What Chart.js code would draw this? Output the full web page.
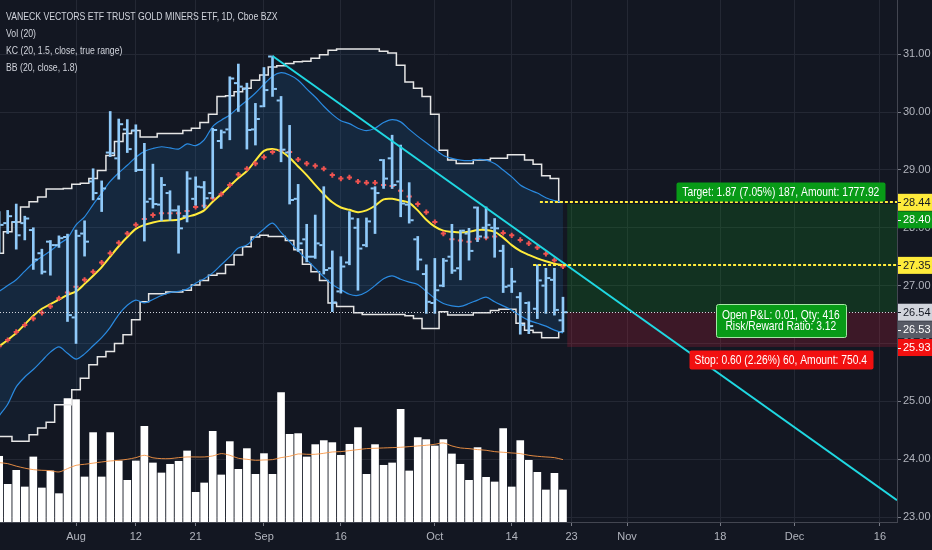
<!DOCTYPE html>
<html>
<head>
<meta charset="utf-8">
<script src="https://cdn.jsdelivr.net/npm/chart.js@4.4.1/dist/chart.umd.min.js"></script>
<style>
  html, body { margin: 0; padding: 0; background: #131722; }
  #wrap { width: 932px; height: 550px; }
</style>
</head>
<body>
<div id="wrap"><canvas id="myChart" width="932" height="550"></canvas></div>
<script>
// trading days, first one sits 9 bars before Aug 1
var dates = ['2019-07-19','2019-07-22','2019-07-23','2019-07-24','2019-07-25','2019-07-26','2019-07-29','2019-07-30','2019-07-31',
  '2019-08-01','2019-08-02','2019-08-05','2019-08-06','2019-08-07','2019-08-08','2019-08-09','2019-08-12','2019-08-13','2019-08-14',
  '2019-08-15','2019-08-16','2019-08-19','2019-08-20','2019-08-21','2019-08-22','2019-08-23','2019-08-26','2019-08-27','2019-08-28',
  '2019-08-29','2019-08-30','2019-09-03','2019-09-04','2019-09-05','2019-09-06','2019-09-09','2019-09-10','2019-09-11','2019-09-12',
  '2019-09-13','2019-09-16','2019-09-17','2019-09-18','2019-09-19','2019-09-20','2019-09-23','2019-09-24','2019-09-25','2019-09-26',
  '2019-09-27','2019-09-30','2019-10-01','2019-10-02','2019-10-03','2019-10-04','2019-10-07','2019-10-08','2019-10-09','2019-10-10',
  '2019-10-11','2019-10-14','2019-10-15','2019-10-16','2019-10-17','2019-10-18','2019-10-21','2019-10-22'];
var firstBar = -9;

var open = [27.90,28.08,28.10,28.08,27.96,27.56,27.76,27.70,27.84,
  26.45,27.90,28.80,28.50,29.30,29.20,29.70,29.68,29.00,28.50,
  28.40,28.60,28.30,28.20,28.50,28.70,28.60,29.50,29.70,30.50,
  30.40,29.70,30.10,30.96,30.20,29.30,28.50,27.80,27.50,27.70,
  27.30,26.90,27.40,28.00,27.70,28.68,29.17,29.20,28.80,28.40,
  27.80,27.20,26.70,27.00,27.50,27.30,27.90,28.35,28.00,28.00,
  27.60,27.00,26.80,26.70,26.60,27.00,27.10,26.40];
var high = [28.28,28.30,28.41,28.20,28.00,27.63,27.78,27.86,27.89,
  27.96,28.12,29.02,28.81,30.01,29.88,29.87,29.78,29.46,29.10,
  28.87,28.64,28.38,28.97,28.88,28.80,29.72,29.69,30.61,30.83,
  30.50,30.15,30.77,30.97,30.27,29.77,28.75,28.06,28.22,28.71,
  27.60,27.50,28.28,28.16,28.17,28.71,29.18,29.60,29.43,28.78,
  27.85,27.36,27.47,27.47,28.06,27.96,27.99,28.36,28.36,28.16,
  27.70,27.30,26.88,26.72,27.36,27.30,27.30,26.80];
var low = [27.56,27.90,27.63,27.79,27.28,27.20,27.18,27.66,26.38,
  26.00,27.51,28.48,28.28,29.23,28.84,29.30,28.97,27.77,28.34,
  28.12,28.13,27.56,28.10,28.39,28.34,28.51,29.37,29.52,30.01,
  29.36,29.43,30.09,30.27,29.14,28.41,27.59,27.41,27.47,27.20,
  26.55,26.87,27.36,26.92,27.67,27.90,28.68,28.68,28.19,28.08,
  27.27,26.52,26.52,26.98,27.21,27.10,27.44,27.76,27.82,27.49,
  26.88,26.88,26.16,26.17,26.43,26.52,26.49,26.20];
var close = [28.05,28.20,27.87,28.16,27.45,27.24,27.70,27.82,26.49,
  27.86,27.76,28.60,28.68,29.29,29.79,29.36,29.00,28.45,28.41,
  28.74,28.30,27.99,28.85,28.71,28.51,29.69,29.65,30.58,30.44,
  29.69,29.88,30.38,30.40,29.35,28.48,27.73,27.50,27.73,27.27,
  26.71,27.33,28.16,27.64,28.11,28.60,28.85,28.74,28.42,28.13,
  27.45,26.72,26.92,27.43,27.26,27.95,27.60,27.85,28.05,27.99,
  26.98,27.07,26.32,26.30,27.09,27.13,26.58,26.54];
// volume in millions
var volume = [39.4,22.6,31.0,21.0,39.0,20.4,30.6,17.0,74.0,
  73.4,27.0,53.6,27.0,53.6,36.6,25.0,36.6,57.4,35.4,
  29.4,34.6,36.4,42.6,17.8,23.4,54.4,28.2,48.2,31.6,
  44.0,28.6,41.0,28.6,77.6,52.6,53.0,39.0,46.4,48.8,
  47.6,40.0,46.6,56.6,28.6,46.4,34.0,35.4,67.6,30.6,
  50.6,49.4,45.6,49.4,40.8,34.6,25.0,44.6,26.8,24.0,
  56.0,21.0,48.8,37.0,29.8,19.2,29.2,19.2];
var volMa = [35.6,35.0,33.5,32.3,31.4,31.0,30.8,30.0,32.0,
  34.0,34.6,35.3,36.0,36.6,37.0,37.6,38.6,40.0,38.5,
  38.0,38.0,38.6,39.0,39.0,39.0,39.6,41.0,40.0,38.2,
  37.6,37.0,37.2,37.4,38.6,39.4,40.8,40.6,40.6,41.2,
  42.0,42.2,42.8,43.4,44.0,44.2,44.4,44.6,44.8,45.2,
  45.6,46.0,46.6,47.4,45.6,44.4,44.0,43.4,43.0,42.2,
  41.8,41.4,41.0,40.0,39.4,39.0,38.6,37.4];
var kcUpper = [27.56,27.93,28.10,28.36,28.45,28.53,28.67,28.67,28.68,
  28.75,28.77,28.85,28.99,29.25,29.49,29.63,29.68,29.57,29.57,
  29.63,29.63,29.63,29.68,29.72,29.82,29.96,30.27,30.28,30.35,
  30.41,30.55,30.64,30.78,30.80,30.84,30.87,30.88,30.93,30.99,
  31.07,31.09,31.09,31.09,31.09,31.09,31.05,31.02,30.81,30.52,
  30.41,30.27,29.96,29.34,29.17,29.11,29.11,29.17,29.17,29.20,
  29.20,29.26,29.26,29.17,29.10,28.90,28.85,28.44];
var kcLower = [24.39,24.39,24.31,24.31,24.42,24.54,24.64,24.94,24.94,
  25.20,25.40,25.63,25.77,25.86,26.00,26.15,26.41,26.72,26.86,
  26.86,26.89,26.89,26.92,27.01,27.09,27.18,27.21,27.36,27.53,
  27.67,27.84,27.87,27.85,27.85,27.78,27.62,27.37,27.24,27.09,
  26.70,26.64,26.64,26.53,26.50,26.50,26.50,26.50,26.50,26.48,
  26.43,26.26,26.26,26.55,26.49,26.49,26.49,26.53,26.53,26.57,
  26.59,26.59,26.35,26.23,26.19,26.10,26.10,26.20];
var kcMid = [25.95,26.06,26.20,26.32,26.43,26.53,26.64,26.78,26.88,
  26.98,27.10,27.24,27.40,27.56,27.74,27.90,28.05,28.15,28.22,
  28.25,28.25,28.25,28.29,28.36,28.38,28.51,28.58,28.74,28.92,
  29.02,29.11,29.22,29.31,29.34,29.31,29.18,29.11,29.07,29.02,
  28.91,28.85,28.87,28.80,28.78,28.78,28.74,28.72,28.64,28.54,
  28.41,28.27,28.10,27.90,27.80,27.78,27.76,27.81,27.83,27.85,
  27.91,27.87,27.79,27.73,27.66,27.55,27.44,27.33];
var bbUpper = [26.90,27.00,27.10,27.25,27.39,27.50,27.60,27.72,27.82,
  28.05,28.19,28.40,28.60,28.80,28.95,29.08,29.22,29.32,29.37,
  29.40,29.38,29.36,29.45,29.42,29.52,29.75,29.86,29.95,30.08,
  30.20,30.33,30.48,30.62,30.68,30.64,30.55,30.40,30.26,30.10,
  29.96,29.85,29.80,29.72,29.68,29.72,29.82,29.87,29.83,29.70,
  29.58,29.47,29.36,29.25,29.20,29.17,29.16,29.18,29.17,29.11,
  29.00,28.88,28.74,28.66,28.60,28.52,28.47,28.44];
var bbLower = [24.75,24.95,25.25,25.42,25.55,25.70,25.85,25.94,25.83,
  25.73,25.82,25.96,26.10,26.28,26.50,26.66,26.75,26.70,26.76,
  26.83,26.88,26.90,26.94,27.04,27.12,27.22,27.36,27.50,27.65,
  27.70,27.85,27.98,28.08,27.92,27.76,27.60,27.45,27.30,27.15,
  27.02,26.93,26.85,26.83,26.89,27.00,27.12,27.17,27.11,27.06,
  27.02,26.90,26.78,26.69,26.65,26.64,26.69,26.75,26.80,26.72,
  26.65,26.58,26.48,26.40,26.35,26.30,26.23,26.18];
var bbBasis = [25.95,26.06,26.18,26.33,26.48,26.60,26.68,26.76,26.84,
  26.90,27.03,27.17,27.32,27.50,27.68,27.84,27.98,28.05,28.09,
  28.12,28.13,28.14,28.19,28.23,28.30,28.45,28.58,28.72,28.86,
  28.98,29.16,29.33,29.36,29.32,29.21,29.06,28.91,28.74,28.58,
  28.44,28.35,28.31,28.27,28.30,28.38,28.49,28.50,28.47,28.43,
  28.30,28.14,28.02,27.95,27.93,27.92,27.93,27.96,27.96,27.93,
  27.83,27.70,27.60,27.53,27.47,27.42,27.38,27.35];

// axis ticks (bar index, Aug 1 = 0) and labels
var timeTicks = [0, 7, 14, 22, 31, 42, 51, 58, 64.5, 75.4, 84.1, 94.1];
var timeLabels = ['Aug', '12', '21', 'Sep', '16', 'Oct', '14', '23', 'Nov', '18', 'Dec', '16'];
var priceTicks = [23, 24, 25, 26, 27, 28, 29, 30, 31];

// trend line drawn from the Sep 4 high
var trendFrom = { x: 23, y: 30.97 };
var trendTo = { x: 96.1, y: 23.29 };

// long position tool
var entry = 26.54, target = 28.41, stop = 25.94;
var posStart = 57.5, posLabelAt = 82.5;
var targetText = 'Target: 1.87 (7.05%) 187, Amount: 1777.92';
var pnlText = ['Open P&L: 0.01, Qty: 416', 'Risk/Reward Ratio: 3.12'];
var stopText = 'Stop: 0.60 (2.26%) 60, Amount: 750.4';
var kcUpperLast = 28.44, basisLast = 27.35;

var axisTags = [
  { v: 28.44, text: '28.44', bg: '#ffeb3b', fg: '#131722' },
  { v: 28.41, text: '28.40', bg: '#089a17', fg: '#ffffff' },
  { v: 27.35, text: '27.35', bg: '#ffeb3b', fg: '#131722' },
  { v: 26.54, text: '26.54', bg: '#d1d4dc', fg: '#131722' },
  { v: 26.53, text: '26.53', bg: '#585b66', fg: '#ffffff' },
  { v: 25.93, text: '25.93', bg: '#f21010', fg: '#ffffff' }
];

var legendLines = ['VANECK VECTORS ETF TRUST GOLD MINERS ETF, 1D, Cboe BZX', 'Vol (20)',
  'KC (20, 1.5, close, true range)', 'BB (20, close, 1.8)'];

var FONT = "'Liberation Sans', Arial, sans-serif";
var NARROW = 0.79;
var gridColor = '#242834';
var textColor = '#b2b5be';

function pts(arr, shift) {
  return arr.map(function (v, k) { return { x: k + firstBar + (shift || 0), y: v }; });
}

// narrow text, the page has no condensed font
function narrowText(ctx, t, x, y, align) {
  ctx.save();
  ctx.translate(x, y);
  ctx.scale(NARROW, 1);
  ctx.textAlign = align;
  ctx.fillText(t, 0, 0);
  ctx.restore();
}

var hlData = high.map(function (h, k) { return { x: k + firstBar, y: [low[k], h] }; });

var fondo = {
  id: 'fondo',
  beforeDraw: function (chart) {
    var ctx = chart.ctx;
    ctx.save();
    ctx.fillStyle = '#131722';
    ctx.fillRect(0, 0, chart.width, chart.height);
    ctx.restore();
  },
  beforeDatasetsDraw: function (chart) {
    var ctx = chart.ctx, x = chart.scales.x, y = chart.scales.y, a = chart.chartArea;
    var left = x.getPixelForValue(posStart);
    var yT = y.getPixelForValue(target), yE = y.getPixelForValue(entry), yS = y.getPixelForValue(stop);
    ctx.save();
    ctx.fillStyle = 'rgba(20,150,30,0.22)';
    ctx.fillRect(left, yT, a.right - left, yE - yT);
    ctx.fillStyle = 'rgba(210,30,60,0.22)';
    ctx.fillRect(left, yE, a.right - left, yS - yE);
    ctx.restore();
  },
  afterDatasetsDraw: function (chart) {
    var ctx = chart.ctx, x = chart.scales.x, y = chart.scales.y, a = chart.chartArea;
    ctx.save();
    ctx.beginPath();
    ctx.rect(a.left, a.top, a.right - a.left, a.bottom - a.top);
    ctx.clip();
    // last price line
    ctx.strokeStyle = '#d1d4dc';
    ctx.lineWidth = 1;
    ctx.setLineDash([1, 2]);
    var yl = Math.round(y.getPixelForValue(close[close.length - 1])) + 0.5;
    ctx.beginPath();
    ctx.moveTo(a.left, yl);
    ctx.lineTo(a.right, yl);
    ctx.stroke();
    // indicator price lines
    ctx.strokeStyle = '#ffeb3b';
    ctx.lineWidth = 2;
    ctx.setLineDash([3, 2]);
    [[kcUpperLast, 54.3], [basisLast, 53.5]].forEach(function (p) {
      var yy = Math.round(y.getPixelForValue(p[0]));
      ctx.beginPath();
      ctx.moveTo(x.getPixelForValue(p[1]), yy);
      ctx.lineTo(a.right, yy);
      ctx.stroke();
    });
    ctx.restore();
  },
  afterDraw: function (chart) {
    var ctx = chart.ctx, x = chart.scales.x, y = chart.scales.y, a = chart.chartArea;
    ctx.save();
    ctx.textBaseline = 'middle';

    // legend
    ctx.font = '11px ' + FONT;
    ctx.fillStyle = '#d1d4dc';
    legendLines.forEach(function (t, k) {
      narrowText(ctx, t, 6, 17 + k * 17, 'left');
    });

    // position labels
    var cx = x.getPixelForValue(posLabelAt);
    ctx.font = '13px ' + FONT;
    function box(text, yTop, h, bg, border) {
      var w = 0;
      text.forEach(function (t) { w = Math.max(w, ctx.measureText(t).width * NARROW); });
      w += 12;
      ctx.fillStyle = bg;
      ctx.beginPath();
      ctx.roundRect(Math.round(cx - w / 2) + 0.5, Math.round(yTop) + 0.5, Math.round(w), h, 2);
      ctx.fill();
      if (border) {
        ctx.strokeStyle = border;
        ctx.lineWidth = 1;
        ctx.stroke();
      }
      ctx.fillStyle = '#ffffff';
      text.forEach(function (t, k) {
        narrowText(ctx, t, cx, yTop + h / 2 + 0.5 + (k - (text.length - 1) / 2) * 11.5, 'center');
      });
    }
    box([targetText], y.getPixelForValue(target) - 22, 19, '#089a17');
    box(pnlText, y.getPixelForValue(entry) - 8.5, 33, '#089a17', '#a6e8a6');
    box([stopText], y.getPixelForValue(stop) + 3, 19, '#f21010');

    // price axis tags
    ctx.font = '11px ' + FONT;
    ctx.textAlign = 'left';
    var prev = -100;
    axisTags.forEach(function (t) {
      var cy = y.getPixelForValue(t.v);
      if (cy < prev + 17.5) cy = prev + 17.5;
      prev = cy;
      ctx.fillStyle = t.bg;
      ctx.fillRect(a.right + 1, cy - 8.5, chart.width - a.right - 1, 17);
      ctx.fillStyle = t.fg;
      ctx.fillRect(a.right + 1, Math.round(cy), 3, 1);
      ctx.fillText(t.text, a.right + 6, cy + 0.5);
    });
    ctx.restore();
  }
};

var ctx = document.getElementById('myChart').getContext('2d');
var myChart = new Chart(ctx, {
  data: {
    datasets: [
      {
        type: 'bar', label: 'Vol', data: pts(volume), yAxisID: 'yv',
        backgroundColor: '#ffffff', barThickness: 7, grouped: false, order: 9
      },
      {
        type: 'line', label: 'Vol MA', data: pts(volMa), yAxisID: 'yv',
        borderColor: 'rgba(247,150,70,0.9)', borderWidth: 1, pointRadius: 0, tension: 0.3, order: 8
      },
      {
        type: 'line', label: 'KC up', data: pts(kcUpper), yAxisID: 'y',
        borderColor: '#e6e6e6', borderWidth: 1.5, pointRadius: 0, stepped: 'middle', order: 7
      },
      {
        type: 'line', label: 'KC low', data: pts(kcLower), yAxisID: 'y',
        borderColor: '#e6e6e6', borderWidth: 1.5, pointRadius: 0, stepped: 'middle',
        fill: '-1', backgroundColor: 'rgba(33,150,243,0.05)', order: 7
      },
      {
        type: 'line', label: 'BB up', data: pts(bbUpper), yAxisID: 'y',
        borderColor: '#2a8ae0', borderWidth: 1.2, pointRadius: 0, tension: 0.3, order: 6
      },
      {
        type: 'line', label: 'BB low', data: pts(bbLower), yAxisID: 'y',
        borderColor: '#2a8ae0', borderWidth: 1.2, pointRadius: 0, tension: 0.3,
        fill: '-1', backgroundColor: 'rgba(33,150,243,0.09)', order: 6
      },
      {
        type: 'line', label: 'Basis', data: pts(bbBasis), yAxisID: 'y',
        borderColor: '#ffeb3b', borderWidth: 2, pointRadius: 0, tension: 0.3, order: 5
      },
      {
        type: 'scatter', label: 'KC mid', data: pts(kcMid), yAxisID: 'y',
        pointStyle: 'cross', pointRadius: 2.6, pointBorderWidth: 2,
        borderColor: '#ef5350', backgroundColor: '#ef5350', order: 4
      },
      {
        type: 'bar', label: 'HL', data: hlData, yAxisID: 'y',
        backgroundColor: '#90caf9', barThickness: 2, grouped: false, order: 3
      },
      {
        type: 'scatter', label: 'Open', data: pts(open, -0.33), yAxisID: 'y',
        pointStyle: 'line', pointRadius: 1.6, pointBorderWidth: 2, borderColor: '#90caf9', order: 2
      },
      {
        type: 'scatter', label: 'Close', data: pts(close, 0.33), yAxisID: 'y',
        pointStyle: 'line', pointRadius: 1.6, pointBorderWidth: 2, borderColor: '#90caf9', order: 2
      },
      {
        type: 'line', label: 'Trend', data: [trendFrom, trendTo], yAxisID: 'y',
        borderColor: '#1fd8e2', borderWidth: 2, pointRadius: 0, order: 1
      }
    ]
  },
  options: {
    responsive: false,
    animation: false,
    events: [],
    layout: { padding: 0, autoPadding: false },
    plugins: {
      legend: { display: false },
      tooltip: { enabled: false },
      filler: { drawTime: 'beforeDatasetsDraw' }
    },
    scales: {
      x: {
        type: 'linear',
        offset: false,
        min: -8.9,
        max: 96.1,
        afterBuildTicks: function (s) {
          s.ticks = timeTicks.map(function (v) { return { value: v }; });
        },
        afterFit: function (s) {
          s.height = 28;
          s.paddingLeft = 0;
          s.paddingRight = 0;
        },
        ticks: {
          autoSkip: false,
          maxRotation: 0,
          padding: 4,
          color: textColor,
          font: { family: FONT, size: 11 },
          callback: function (v, k) { return timeLabels[k]; }
        },
        grid: { offset: false, color: gridColor, tickColor: '#787b86', tickLength: 4 },
        border: { color: '#434651' }
      },
      y: {
        position: 'right',
        min: 22.914,
        max: 31.937,
        afterBuildTicks: function (s) {
          s.ticks = priceTicks.map(function (v) { return { value: v }; });
        },
        afterFit: function (s) {
          s.width = 35;
          s.paddingTop = 0;
          s.paddingBottom = 0;
        },
        ticks: {
          padding: 2,
          color: textColor,
          font: { family: FONT, size: 11 },
          callback: function (v) { return v.toFixed(2); }
        },
        grid: { color: gridColor, tickColor: '#787b86', tickLength: 4 },
        border: { color: '#434651' }
      },
      yv: {
        display: false,
        min: 0,
        max: 313
      }
    }
  },
  plugins: [fondo]
});
</script>
</body>
</html>
